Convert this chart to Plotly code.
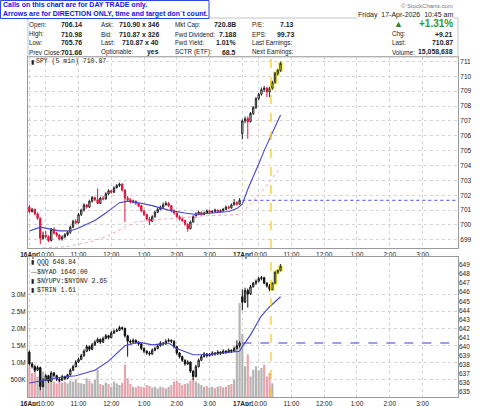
import plotly.graph_objs as go

# 5 min bars: 16-Apr 9:30-15:55 (78 bars), 17-Apr 9:30-10:40 (15 bars)
spy_open = [701.20, 700.90, 701.05, 700.75, 700.45, 699.10, 699.30, 699.20, 698.95, 699.70,
            699.45, 699.30, 699.05, 699.20, 699.35, 699.50, 699.85, 700.25, 700.15, 700.70,
            701.00, 701.35, 701.20, 701.60, 701.85, 701.70, 701.45, 701.80, 701.75, 702.10,
            702.30, 702.20, 702.50, 702.65, 702.75, 702.35, 701.80, 701.70, 701.55, 701.60,
            701.45, 701.30, 700.95, 700.70, 700.40, 700.25, 700.55, 700.85, 701.05, 701.20,
            701.35, 701.45, 701.30, 700.95, 700.80, 700.55, 700.40, 700.30, 700.05, 699.75,
            700.20, 700.55, 700.75, 700.85, 700.70, 700.80, 700.95, 700.85, 700.90, 701.00,
            700.90, 700.95, 701.05, 701.20, 701.15, 701.35, 701.50, 701.40,
            706.14, 707.00, 707.15, 706.95, 707.50, 707.90, 708.50, 708.80, 709.10, 709.20,
            708.95, 709.20, 709.60, 710.20, 710.40]
spy_high = [701.35, 701.15, 701.10, 700.85, 700.50, 699.55, 699.60, 699.30, 699.80, 699.85,
            699.55, 699.40, 699.30, 699.45, 699.60, 699.95, 700.35, 700.40, 700.80, 701.10,
            701.45, 701.40, 701.70, 701.95, 701.90, 702.45, 701.90, 701.95, 702.20, 702.40,
            702.35, 702.60, 702.75, 702.85, 702.80, 702.40, 701.95, 701.80, 701.70, 701.65,
            701.50, 701.35, 701.00, 700.75, 700.55, 700.65, 700.95, 701.15, 701.30, 701.50,
            701.60, 701.55, 701.35, 701.05, 700.85, 700.65, 700.55, 700.35, 700.10, 700.30,
            700.65, 700.85, 700.95, 700.90, 700.90, 701.05, 701.00, 701.00, 701.10, 701.05,
            701.05, 701.15, 701.30, 701.30, 701.45, 701.75, 701.60, 701.80,
            707.10, 707.30, 707.30, 707.60, 708.00, 708.60, 708.90, 709.25, 709.35, 709.30,
            709.30, 709.70, 710.30, 710.50, 710.98]
spy_low = [700.80, 700.85, 700.65, 700.35, 698.70, 699.00, 699.10, 698.85, 698.90, 699.35,
           699.20, 698.95, 698.95, 699.10, 699.25, 699.40, 699.80, 700.05, 700.10, 700.60,
           700.90, 701.10, 701.15, 701.50, 701.60, 701.40, 701.40, 701.65, 701.70, 702.00,
           702.10, 702.15, 702.45, 702.55, 702.25, 700.20, 701.60, 701.45, 701.45, 701.35,
           701.20, 700.85, 700.60, 700.30, 700.00, 700.20, 700.50, 700.80, 701.00, 701.10,
           701.30, 701.20, 700.85, 700.70, 700.45, 700.30, 700.20, 699.95, 699.55, 699.70,
           700.15, 700.50, 700.65, 700.60, 700.65, 700.75, 700.75, 700.80, 700.85, 700.80,
           700.85, 700.90, 701.00, 701.05, 701.10, 701.30, 701.30, 701.35,
           705.76, 706.85, 705.80, 706.90, 707.40, 707.80, 708.40, 708.70, 708.95, 708.60,
           708.60, 709.10, 709.50, 710.05, 710.30]
spy_close = [700.90, 701.05, 700.75, 700.45, 699.10, 699.30, 699.20, 698.95, 699.70, 699.45,
             699.30, 699.05, 699.20, 699.35, 699.50, 699.85, 700.25, 700.15, 700.70, 701.00,
             701.35, 701.20, 701.60, 701.85, 701.70, 701.45, 701.80, 701.75, 702.10, 702.30,
             702.20, 702.50, 702.65, 702.75, 702.35, 701.80, 701.70, 701.55, 701.60, 701.45,
             701.30, 700.95, 700.70, 700.40, 700.25, 700.55, 700.85, 701.05, 701.20, 701.35,
             701.45, 701.30, 700.95, 700.80, 700.55, 700.40, 700.30, 700.05, 699.75, 700.20,
             700.55, 700.75, 700.85, 700.70, 700.80, 700.95, 700.85, 700.90, 701.00, 700.90,
             700.95, 701.05, 701.20, 701.15, 701.35, 701.50, 701.40, 701.66,
             707.00, 707.15, 706.95, 707.50, 707.90, 708.50, 708.80, 709.10, 709.20, 708.95,
             709.20, 709.60, 710.20, 710.40, 710.87]

qqq_open = [639.40, 638.10, 637.80, 637.40, 637.70, 635.60, 636.30, 636.80, 636.20, 637.10,
            636.80, 636.40, 636.30, 636.70, 636.50, 636.90, 637.40, 637.80, 638.30, 638.60,
            639.00, 639.50, 640.00, 639.70, 640.20, 640.50, 640.80, 640.50, 640.90, 641.20,
            641.00, 641.50, 641.70, 641.80, 642.10, 642.00, 641.20, 640.60, 640.50, 640.70,
            640.50, 640.30, 639.80, 639.50, 639.30, 639.20, 639.60, 639.80, 640.10, 640.40,
            640.30, 640.60, 640.70, 640.60, 640.00, 639.30, 638.90, 638.50, 638.10, 638.30,
            637.30, 636.70, 637.80, 638.50, 638.90, 639.20, 639.00, 639.10, 639.30, 639.20,
            639.40, 639.30, 639.50, 639.40, 639.60, 639.50, 639.80, 640.10,
            645.50, 644.90, 646.20, 645.80, 646.60, 647.00, 647.20, 647.50, 647.60, 647.00,
            646.70, 646.30, 647.00, 648.20, 648.40]
qqq_high = [639.60, 638.30, 637.90, 637.90, 637.80, 636.50, 637.00, 636.90, 637.30, 637.20,
            636.90, 636.60, 636.90, 636.80, 637.00, 637.60, 638.00, 638.50, 638.80, 639.20,
            639.70, 640.20, 640.10, 640.40, 640.70, 641.00, 640.90, 641.10, 641.40, 641.30,
            641.70, 641.90, 642.00, 642.30, 642.20, 642.10, 641.30, 640.80, 640.90, 640.80,
            640.60, 640.40, 639.90, 639.60, 639.50, 639.80, 640.00, 640.30, 640.60, 640.50,
            640.80, 640.90, 640.80, 640.70, 640.10, 639.40, 639.00, 638.60, 638.50, 638.40,
            637.40, 638.00, 638.70, 639.10, 639.40, 639.30, 639.30, 639.50, 639.40, 639.60,
            639.50, 639.70, 639.60, 639.80, 639.70, 640.00, 640.70, 640.60,
            646.30, 646.50, 646.40, 646.80, 647.10, 647.40, 647.70, 647.80, 647.70, 647.10,
            646.90, 647.10, 648.30, 648.50, 649.10]
qqq_low = [637.90, 637.60, 637.20, 637.30, 635.20, 635.50, 636.20, 636.00, 636.10, 636.60,
           636.20, 636.10, 636.20, 636.30, 636.40, 636.80, 637.30, 637.70, 638.20, 638.50,
           638.90, 639.40, 639.50, 639.60, 640.10, 640.40, 640.30, 640.40, 640.80, 640.80,
           640.90, 641.40, 641.60, 641.70, 641.80, 641.00, 638.90, 640.30, 640.40, 640.30,
           640.10, 639.60, 639.30, 639.10, 639.00, 639.10, 639.50, 639.70, 640.00, 640.10,
           640.20, 640.50, 640.40, 639.80, 639.10, 638.70, 638.30, 637.90, 638.00, 637.10,
           636.30, 636.60, 637.70, 638.40, 638.80, 638.80, 638.90, 639.00, 639.00, 639.10,
           639.10, 639.20, 639.20, 639.30, 639.30, 639.40, 639.70, 639.90,
           644.00, 644.80, 644.30, 645.70, 646.50, 646.80, 647.10, 647.30, 646.90, 646.50,
           646.10, 646.20, 646.90, 648.00, 648.30]
qqq_close = [638.10, 637.80, 637.40, 637.70, 635.60, 636.30, 636.80, 636.20, 637.10, 636.80,
             636.40, 636.30, 636.70, 636.50, 636.90, 637.40, 637.80, 638.30, 638.60, 639.00,
             639.50, 640.00, 639.70, 640.20, 640.50, 640.80, 640.50, 640.90, 641.20, 641.00,
             641.50, 641.70, 641.80, 642.10, 642.00, 641.20, 640.60, 640.50, 640.70, 640.50,
             640.30, 639.80, 639.50, 639.30, 639.20, 639.60, 639.80, 640.10, 640.40, 640.30,
             640.60, 640.70, 640.60, 640.00, 639.30, 638.90, 638.50, 638.10, 638.30, 637.30,
             636.70, 637.80, 638.50, 638.90, 639.20, 639.00, 639.10, 639.30, 639.20, 639.40,
             639.30, 639.50, 639.40, 639.60, 639.50, 639.80, 640.10, 640.40,
             644.90, 646.20, 645.80, 646.60, 647.00, 647.20, 647.50, 647.60, 647.00, 646.70,
             646.30, 647.00, 648.20, 648.40, 648.84]

# volume in thousands
volume_k = [900, 700, 950, 600, 850, 750, 550, 600, 650, 450,
            400, 500, 420, 450, 400, 480, 450, 520, 420, 400,
            380, 550, 480, 400, 500, 800, 380, 350, 420, 380,
            300, 450, 400, 350, 420, 950, 550, 380, 300, 280,
            320, 300, 280, 350, 320, 280, 300, 250, 300, 280,
            250, 300, 350, 450, 480, 420, 350, 380, 400, 480,
            550, 450, 400, 350, 300, 320, 280, 300, 260, 300,
            320, 280, 300, 350, 380, 500, 1500, 2750,
            1850, 900, 1250, 600, 800, 900, 780, 850, 950, 600,
            700, 400]

# moving averages (bar index, value)
spy_ma_bar = [0, 4, 11, 15, 18, 24, 28, 33, 36, 40, 45, 51, 57, 61, 67, 73, 76, 78, 80, 82, 84, 86, 88, 90, 92]
spy_ma = [699.60, 699.85, 699.60, 699.60, 699.80, 700.30, 700.80, 701.50, 701.60, 701.50,
          701.30, 701.00, 700.80, 700.70, 700.80, 700.90, 701.10, 701.40, 702.40, 703.20,
          704.10, 705.00, 705.80, 706.60, 707.40]
spy_ma_long_bar = [5, 14, 22, 28, 35, 39, 50, 63, 77, 80, 84, 88, 92]
spy_ma_long = [698.45, 698.55, 698.85, 699.20, 699.85, 700.20, 700.40, 700.60, 700.70,
               701.20, 702.00, 702.90, 703.90]
qqq_ma_bar = [0, 11, 17, 24, 29, 35, 40, 45, 51, 54, 60, 65, 71, 77, 78, 81, 85, 88, 92]
qqq_ma = [636.00, 636.60, 636.80, 637.40, 638.40, 640.10, 640.50, 640.20, 640.40, 639.80,
          639.10, 639.10, 639.30, 639.50, 640.00, 641.30, 643.40, 644.40, 645.50]

spy_prev_close = 701.66
qqq_prev_close = 640.40
day2_start = 78
call_bar = 89
last_bar = 157

tick_bars = [0, 6, 18, 30, 42, 54, 66, 78, 84, 96, 108, 120, 132, 144]
tick_text = ["<b>16Apr</b>", "10:00", "11:00", "12:00", "1:00", "2:00", "3:00",
             "<b>17Apr</b>", "10:00", "11:00", "12:00", "1:00", "2:00", "3:00"]
vol_ticks = [500, 1000, 1500, 2000, 2500, 3000]
vol_text = ["500K", "1.0M", "1.5M", "2.0M", "2.5M", "3.0M"]

SANS = "Liberation Sans, Arial, sans-serif"
MONO = "Liberation Mono, DejaVu Sans Mono, monospace"
RED = "#e0143c"
W, H = 480, 406
L, R, T, B = 28, 22, 57, 9


def px(x):
    return (x - L) / (W - L - R)


def py(y):
    return (H - B - y) / (H - T - B)


def pick(seq, idx):
    return [seq[i] for i in idx]


def candles(idx, o, h, l, c, color, up_fill, xa, ya, width=1, down_fill=None):
    return go.Candlestick(x=idx, open=pick(o, idx), high=pick(h, idx), low=pick(l, idx), close=pick(c, idx),
                          increasing=dict(line=dict(color=color, width=width), fillcolor=up_fill),
                          decreasing=dict(line=dict(color=color, width=width), fillcolor=down_fill or color),
                          whiskerwidth=0, xaxis=xa, yaxis=ya, showlegend=False, hoverinfo="skip")


n = len(spy_close)
normal = list(range(call_bar))
called = list(range(call_bar, n))
spy_red = [i for i in normal if spy_close[i] < (spy_close[i - 1] if i else spy_open[i])]
spy_black = [i for i in normal if i not in spy_red]

fig = go.Figure()

# ---- top panel: SPY
fig.add_trace(go.Scatter(x=spy_ma_long_bar, y=spy_ma_long, mode="lines",
                         line=dict(color="#f2a6b8", width=1, dash="dot"), showlegend=False))
fig.add_trace(go.Scatter(x=spy_ma_bar, y=spy_ma, mode="lines",
                         line=dict(color="#4646c8", width=1.1), showlegend=False))
fig.add_trace(go.Scatter(x=[day2_start, last_bar], y=[spy_prev_close] * 2, mode="lines",
                         line=dict(color="#4a4af0", width=1, dash="dot"), showlegend=False))
fig.add_trace(candles(spy_black, spy_open, spy_high, spy_low, spy_close, "#222", "white", "x", "y"))
fig.add_trace(candles(spy_red, spy_open, spy_high, spy_low, spy_close, RED, "white", "x", "y"))
fig.add_trace(candles(called, spy_open, spy_high, spy_low, spy_close, "#f2f03a", "#f2f03a", "x", "y", width=3))
fig.add_trace(candles(called, spy_open, spy_high, spy_low, spy_close, "#333", "#f6f45a", "x", "y",
                      down_fill="#333"))

# ---- bottom panel: volume + QQQ
vol_idx = list(range(len(volume_k)))
vol_col = ["#e8a4ae" if qqq_close[i] < (qqq_close[i - 1] if i else qqq_open[i]) else "#b4b4b4" for i in vol_idx]
fig.add_trace(go.Bar(x=vol_idx, y=volume_k, marker=dict(color=vol_col, line=dict(width=0)), width=0.8,
                     xaxis="x2", yaxis="y3", showlegend=False, hoverinfo="skip"))
fig.add_trace(go.Scatter(x=qqq_ma_bar, y=qqq_ma, mode="lines", xaxis="x2", yaxis="y4",
                         line=dict(color="#4646c8", width=1.1), showlegend=False))
fig.add_trace(go.Scatter(x=[day2_start, last_bar], y=[qqq_prev_close] * 2, mode="lines", xaxis="x2", yaxis="y4",
                         line=dict(color="#3a3af0", width=1, dash="dash"), showlegend=False))
fig.add_trace(candles(normal, qqq_open, qqq_high, qqq_low, qqq_close, "#111", "white", "x2", "y4"))
fig.add_trace(candles(called, qqq_open, qqq_high, qqq_low, qqq_close, "#f2f03a", "#f2f03a", "x2", "y4", width=3))
fig.add_trace(candles(called, qqq_open, qqq_high, qqq_low, qqq_close, "#333", "#f6f45a", "x2", "y4",
                      down_fill="#333"))

tickfont = dict(size=6.5, color="#222", family=SANS)
grid = dict(showgrid=True, gridcolor="#d4d4d4", griddash="dot", gridwidth=1, automargin=False,
            showline=True, linecolor="#9a9a9a", linewidth=1, mirror=True, zeroline=False,
            ticks="", tickfont=tickfont)
xcommon = dict(range=[-0.5, last_bar], tickmode="array", tickvals=tick_bars, ticktext=tick_text,
               tickangle=0, rangeslider=dict(visible=False), **grid)
top_dom = [py(248), 1]
bot_dom = [0, py(257)]

fig.update_layout(
    width=W, height=H, margin=dict(l=L, r=R, t=T, b=B, autoexpand=False),
    paper_bgcolor="white", plot_bgcolor="white", showlegend=False,
    font=dict(family=SANS, size=7, color="#222"),
    xaxis=dict(domain=[0, 1], anchor="y", **xcommon),
    yaxis=dict(domain=top_dom, anchor="x", side="right", range=[698.45, 711.3],
               tickvals=list(range(699, 712)), **grid),
    xaxis2=dict(domain=[0, 1], anchor="y3", **xcommon),
    yaxis3=dict(domain=bot_dom, anchor="x2", side="left", range=[0, 4100],
                tickvals=vol_ticks, ticktext=vol_text, **grid),
    yaxis4=dict(overlaying="y3", anchor="x2", side="right", range=[634.45, 649.88],
                tickvals=list(range(635, 650)), showgrid=False, zeroline=False, showline=False,
                automargin=False, ticks="", tickfont=tickfont),
)

# call marker
for xr, yr in [("x", "y domain"), ("x2", "y3 domain")]:
    fig.add_shape(type="line", xref=xr, yref=yr, x0=call_bar - 0.5, x1=call_bar - 0.5, y0=0, y1=1,
                  line=dict(color="#f5c518", width=1.2, dash="dash"))

# header frame and note box
fig.add_shape(type="rect", xref="paper", yref="paper", x0=px(28), x1=px(458), y0=py(57), y1=py(18),
              line=dict(color="#c4c4c4", width=1))
fig.add_shape(type="rect", xref="paper", yref="paper", x0=px(0.5), x1=px(209), y0=py(18.5), y1=py(0.5),
              line=dict(color="#2c48d8", width=1), fillcolor="white")


def text(x, y, s, size=7, color="#222", anchor="left", bold=False, family=SANS, bg=None):
    fig.add_annotation(x=px(x), y=py(y), xref="paper", yref="paper", showarrow=False,
                       text="<b>%s</b>" % s if bold else s, xanchor=anchor, yanchor="middle",
                       font=dict(size=size, color=color, family=family), bgcolor=bg, borderpad=0)


text(2, 5, "Calls on this chart are for DAY TRADE only.", bold=True, color="#1414e6")
text(2, 14, "Arrows are for DIRECTION ONLY, time and target don`t count.", bold=True, color="#1414e6")
text(454, 6, "© StockCharts.com", size=6, color="#777", anchor="right")
text(454, 15, "Friday  17-Apr-2026  10:45 am", size=7, anchor="right", bg="white")

info_rows = [25, 34, 43, 52]
info_cols = [
    (28, 83, ["Open:", "High:", "Low:", "Prev Close:"], ["706.14", "710.98", "705.76", "701.66"]),
    (100, 160, ["Ask:", "Bid:", "Last:", "Optionable:"], ["710.90 x 346", "710.87 x 326", "710.87 x 40", "yes"]),
    (174, 237, ["Mkt Cap:", "Fwd Dividend:", "Fwd Yield:", "SCTR (ETF):"], ["720.8B", "7.188", "1.01%", "68.5"]),
    (251, 295, ["P/E:", "EPS:", "Last Earnings:", "Next Earnings:"], ["7.13", "99.73", "", ""]),
    (391, 454, ["", "Chg:", "Last:", "Volume:"], ["", "+9.21", "710.87", "15,058,638"]),
]
for lx, vx, labels, values in info_cols:
    for y, lab, val in zip(info_rows, labels, values):
        if lab:
            text(lx, y, lab, size=6.3)
        if val:
            text(vx, y, val, anchor="right", bold=True, size=6.9)
text(393, 24, "▲", size=9, color="#2e7d32")
text(454, 24, "+1.31%", size=10, color="#2e9a2e", anchor="right", bold=True)

# panel legends
text(30, 62, "▮", size=6)
text(35, 62, "SPY (5 min) 710.87", size=6.5, family=MONO)
legend_rows = [(262, "▮", "QQQ 648.84"), (272, "—", "$NYAD 1646.00"),
               (281, "▮", "$NYUPV:$NYDNV 2.65"), (290, "▮", "$TRIN 1.61")]
for y, icon, s in legend_rows:
    text(30, y, icon, size=6)
    text(36, y, s, size=6.5, family=MONO)

# the page must not add its own margin around the 480x406 figure
fig.write_html("out.html", config={"displayModeBar": False},
               post_script="document.body.style.margin='0';")
